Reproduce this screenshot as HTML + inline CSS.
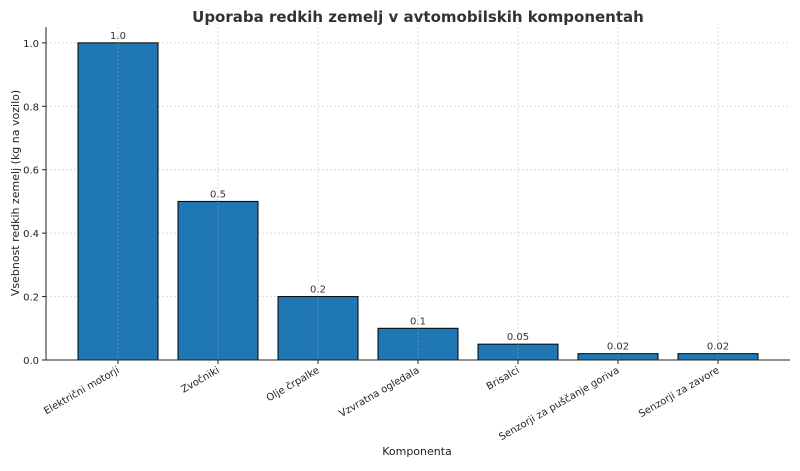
<!DOCTYPE html>
<html><head><meta charset="utf-8"><style>
body{margin:0;background:#fff;font-family:"DejaVu Sans","Liberation Sans",sans-serif;}
svg text{font-family:"DejaVu Sans","Liberation Sans",sans-serif;}
</style></head><body>
<svg id="chart" width="800" height="467" viewBox="0 0 800 467" xmlns="http://www.w3.org/2000/svg">
<rect width="800" height="467" fill="#fff"/>
<text x="418" y="22" text-anchor="middle" font-size="15" font-weight="bold" fill="#333">Uporaba redkih zemelj v avtomobilskih komponentah</text>
<g id="grid"></g>
<g id="bars"></g>
<g id="axes"></g>
<text x="417" y="455" text-anchor="middle" font-size="11" fill="#222">Komponenta</text>
<text transform="translate(19,193) rotate(-90)" text-anchor="middle" font-size="11" fill="#222">Vsebnost redkih zemelj (kg na vozilo)</text>
</svg>
<script>
const categories=["Električni motorji","Zvočniki","Olje črpalke","Vzvratna ogledala","Brisalci","Senzorji za puščanje goriva","Senzorji za zavore"];
const values=[1.0,0.5,0.2,0.1,0.05,0.02,0.02];
const valueLabels=["1.0","0.5","0.2","0.1","0.05","0.02","0.02"];
const yTicks=[0,0.2,0.4,0.6,0.8,1.0];
const yTickLabels=["0.0","0.2","0.4","0.6","0.8","1.0"];
const L=46,R=790,T=27,B=360;
const xmin=-0.72,xmax=categories.length-1+0.72,ymax=1.05;
const xs=i=>L+(i-xmin)/(xmax-xmin)*(R-L);
const ys=v=>B-v/ymax*(B-T);
const NS="http://www.w3.org/2000/svg";
function mk(tag,attrs,parent,text){const e=document.createElementNS(NS,tag);for(const k in attrs)e.setAttribute(k,attrs[k]);if(text!==undefined)e.textContent=text;document.getElementById(parent).appendChild(e);return e;}
const bw=(xs(1)-xs(0))*0.8;
yTicks.forEach((t,i)=>{
  const y=ys(t);
  const g=mk('line',{x1:L,x2:R,y1:y,y2:y,stroke:'#ccc','stroke-width':0.7,'stroke-dasharray':'2,2'},'grid');
  
  
  const tk=mk('line',{x1:L-4,x2:L,y1:y,y2:y,stroke:'#222'},'axes');
  
  
  const tl=mk('text',{x:L-7,y:y+4,'text-anchor':'end','font-size':10,fill:'#222'},'axes',yTickLabels[i]);
  
  
});
categories.forEach((c,i)=>{
  const x=xs(i);
  const gl=mk('line',{x1:x,x2:x,y1:T,y2:B,stroke:'#ccc','stroke-width':0.7,'stroke-dasharray':'2,2'},'grid');
  
  
  const r=mk('rect',{x:x-bw/2,y:ys(values[i]),width:bw,height:B-ys(values[i]),fill:'#1f77b4',stroke:'#000','stroke-width':1},'bars');
  
  
  const gl2=mk('line',{x1:x,x2:x,y1:ys(values[i]),y2:B,stroke:'#ccc','stroke-width':0.5,'stroke-dasharray':'2,2','opacity':0.6},'bars');
  
  
  const vl=mk('text',{x:x,y:ys(values[i])-4,'text-anchor':'middle','font-size':10,fill:'#333'},'bars',valueLabels[i]);
  
  
  const tk=mk('line',{x1:x,x2:x,y1:B,y2:B+4,stroke:'#222'},'axes');
  
  
  const xl=mk('text',{transform:`translate(${x+2},${B+12}) rotate(-30)`,'text-anchor':'end','font-size':10,fill:'#222'},'axes',c);
  
  
});
const ax=mk('path',{d:`M${L},${T}V${B}H${R}`,fill:'none',stroke:'#222','stroke-width':1},'axes');


</script>
</body></html>
